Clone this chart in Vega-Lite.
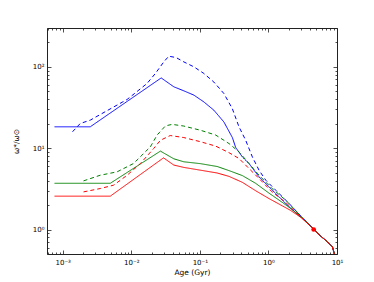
{
  "$schema": "https://vega.github.io/schema/vega-lite/v6.json",
  "width": 290,
  "height": 226,
  "autosize": {"type": "none"},
  "padding": {"left": 47, "top": 28, "right": 37, "bottom": 28},
  "config": {
    "view": {"stroke": "#222222", "strokeWidth": 1},
    "font": "DejaVu Sans",
    "axis": {
      "domain": false,
      "grid": false,
      "labelFont": "DejaVu Sans",
      "labelFontSize": 7,
      "labelColor": "#000000",
      "tickColor": "#222222",
      "tickWidth": 0.8,
      "titleFont": "DejaVu Sans",
      "titleFontSize": 7.5,
      "titleFontWeight": "normal",
      "titleColor": "#000000"
    }
  },
  "datasets": {
    "lines": [
      {"series": "bs", "color": "b", "style": "solid", "age": 0.00076, "omega": 18.3},
      {"series": "bs", "color": "b", "style": "solid", "age": 0.00252, "omega": 18.3},
      {"series": "bs", "color": "b", "style": "solid", "age": 0.0273, "omega": 73},
      {"series": "bs", "color": "b", "style": "solid", "age": 0.0417, "omega": 56.8},
      {"series": "bs", "color": "b", "style": "solid", "age": 0.0583, "omega": 50.7},
      {"series": "bs", "color": "b", "style": "solid", "age": 0.0817, "omega": 44.9},
      {"series": "bs", "color": "b", "style": "solid", "age": 0.114, "omega": 37.1},
      {"series": "bs", "color": "b", "style": "solid", "age": 0.16, "omega": 29.3},
      {"series": "bs", "color": "b", "style": "solid", "age": 0.224, "omega": 21},
      {"series": "bs", "color": "b", "style": "solid", "age": 0.298, "omega": 13.5},
      {"series": "bs", "color": "b", "style": "solid", "age": 0.333, "omega": 10.2},
      {"series": "bs", "color": "b", "style": "solid", "age": 0.417, "omega": 7.8},
      {"series": "bs", "color": "b", "style": "solid", "age": 0.52, "omega": 6.48},
      {"series": "bs", "color": "b", "style": "solid", "age": 0.729, "omega": 4.44},
      {"series": "bs", "color": "b", "style": "solid", "age": 1.02, "omega": 3.34},
      {"series": "bs", "color": "b", "style": "solid", "age": 1.43, "omega": 2.52},
      {"series": "bs", "color": "b", "style": "solid", "age": 2.0, "omega": 1.9},
      {"series": "bs", "color": "b", "style": "solid", "age": 3.0, "omega": 1.42},
      {"series": "bs", "color": "b", "style": "solid", "age": 4.64, "omega": 1.0},
      {"series": "bs", "color": "b", "style": "solid", "age": 5.5, "omega": 0.86},
      {"series": "bs", "color": "b", "style": "solid", "age": 7.2, "omega": 0.71},
      {"series": "bs", "color": "b", "style": "solid", "age": 8.6, "omega": 0.61},
      {"series": "bs", "color": "b", "style": "solid", "age": 9.1, "omega": 0.51},
      {"series": "bs", "color": "b", "style": "solid", "age": 9.4, "omega": 0.4},

      {"series": "bd", "color": "b", "style": "dashed", "age": 0.00139, "omega": 15.9},
      {"series": "bd", "color": "b", "style": "dashed", "age": 0.0018, "omega": 20.1},
      {"series": "bd", "color": "b", "style": "dashed", "age": 0.00252, "omega": 22.1},
      {"series": "bd", "color": "b", "style": "dashed", "age": 0.0044, "omega": 28.8},
      {"series": "bd", "color": "b", "style": "dashed", "age": 0.0087, "omega": 39.7},
      {"series": "bd", "color": "b", "style": "dashed", "age": 0.017, "omega": 62.5},
      {"series": "bd", "color": "b", "style": "dashed", "age": 0.0225, "omega": 83},
      {"series": "bd", "color": "b", "style": "dashed", "age": 0.0298, "omega": 115},
      {"series": "bd", "color": "b", "style": "dashed", "age": 0.0352, "omega": 135},
      {"series": "bd", "color": "b", "style": "dashed", "age": 0.045, "omega": 130},
      {"series": "bd", "color": "b", "style": "dashed", "age": 0.0583, "omega": 115},
      {"series": "bd", "color": "b", "style": "dashed", "age": 0.0817, "omega": 100},
      {"series": "bd", "color": "b", "style": "dashed", "age": 0.114, "omega": 83},
      {"series": "bd", "color": "b", "style": "dashed", "age": 0.16, "omega": 65},
      {"series": "bd", "color": "b", "style": "dashed", "age": 0.224, "omega": 47},
      {"series": "bd", "color": "b", "style": "dashed", "age": 0.298, "omega": 30.5},
      {"series": "bd", "color": "b", "style": "dashed", "age": 0.372, "omega": 18.3},
      {"series": "bd", "color": "b", "style": "dashed", "age": 0.466, "omega": 12.5},
      {"series": "bd", "color": "b", "style": "dashed", "age": 0.583, "omega": 7.8},
      {"series": "bd", "color": "b", "style": "dashed", "age": 0.729, "omega": 5.36},
      {"series": "bd", "color": "b", "style": "dashed", "age": 0.914, "omega": 4.04},
      {"series": "bd", "color": "b", "style": "dashed", "age": 1.28, "omega": 3.04},
      {"series": "bd", "color": "b", "style": "dashed", "age": 2.0, "omega": 2.09},
      {"series": "bd", "color": "b", "style": "dashed", "age": 3.0, "omega": 1.45},
      {"series": "bd", "color": "b", "style": "dashed", "age": 4.64, "omega": 1.0},
      {"series": "bd", "color": "b", "style": "dashed", "age": 5.5, "omega": 0.86},
      {"series": "bd", "color": "b", "style": "dashed", "age": 7.2, "omega": 0.71},
      {"series": "bd", "color": "b", "style": "dashed", "age": 8.6, "omega": 0.61},
      {"series": "bd", "color": "b", "style": "dashed", "age": 9.1, "omega": 0.51},
      {"series": "bd", "color": "b", "style": "dashed", "age": 9.4, "omega": 0.4},

      {"series": "gs", "color": "g", "style": "solid", "age": 0.00076, "omega": 3.7},
      {"series": "gs", "color": "g", "style": "solid", "age": 0.00494, "omega": 3.7},
      {"series": "gs", "color": "g", "style": "solid", "age": 0.0266, "omega": 9.2},
      {"series": "gs", "color": "g", "style": "solid", "age": 0.0417, "omega": 7.4},
      {"series": "gs", "color": "g", "style": "solid", "age": 0.0583, "omega": 6.8},
      {"series": "gs", "color": "g", "style": "solid", "age": 0.102, "omega": 6.45},
      {"series": "gs", "color": "g", "style": "solid", "age": 0.179, "omega": 5.95},
      {"series": "gs", "color": "g", "style": "solid", "age": 0.266, "omega": 5.3},
      {"series": "gs", "color": "g", "style": "solid", "age": 0.417, "omega": 4.6},
      {"series": "gs", "color": "g", "style": "solid", "age": 0.65, "omega": 3.7},
      {"series": "gs", "color": "g", "style": "solid", "age": 1.02, "omega": 2.8},
      {"series": "gs", "color": "g", "style": "solid", "age": 1.6, "omega": 2.15},
      {"series": "gs", "color": "g", "style": "solid", "age": 2.1, "omega": 1.82},
      {"series": "gs", "color": "g", "style": "solid", "age": 3.0, "omega": 1.41},
      {"series": "gs", "color": "g", "style": "solid", "age": 4.64, "omega": 1.0},
      {"series": "gs", "color": "g", "style": "solid", "age": 5.5, "omega": 0.86},
      {"series": "gs", "color": "g", "style": "solid", "age": 7.2, "omega": 0.71},
      {"series": "gs", "color": "g", "style": "solid", "age": 8.6, "omega": 0.61},
      {"series": "gs", "color": "g", "style": "solid", "age": 9.1, "omega": 0.51},
      {"series": "gs", "color": "g", "style": "solid", "age": 9.4, "omega": 0.4},

      {"series": "gd", "color": "g", "style": "dashed", "age": 0.00201, "omega": 3.96},
      {"series": "gd", "color": "g", "style": "dashed", "age": 0.00353, "omega": 4.65},
      {"series": "gd", "color": "g", "style": "dashed", "age": 0.00619, "omega": 5.11},
      {"series": "gd", "color": "g", "style": "dashed", "age": 0.0108, "omega": 6.48},
      {"series": "gd", "color": "g", "style": "dashed", "age": 0.019, "omega": 10.4},
      {"series": "gd", "color": "g", "style": "dashed", "age": 0.0238, "omega": 14.5},
      {"series": "gd", "color": "g", "style": "dashed", "age": 0.0315, "omega": 18.8},
      {"series": "gd", "color": "g", "style": "dashed", "age": 0.0394, "omega": 19.6},
      {"series": "gd", "color": "g", "style": "dashed", "age": 0.0583, "omega": 18.7},
      {"series": "gd", "color": "g", "style": "dashed", "age": 0.102, "omega": 16.6},
      {"series": "gd", "color": "g", "style": "dashed", "age": 0.17, "omega": 14.5},
      {"series": "gd", "color": "g", "style": "dashed", "age": 0.266, "omega": 11.4},
      {"series": "gd", "color": "g", "style": "dashed", "age": 0.372, "omega": 9.0},
      {"series": "gd", "color": "g", "style": "dashed", "age": 0.52, "omega": 6.48},
      {"series": "gd", "color": "g", "style": "dashed", "age": 0.729, "omega": 4.65},
      {"series": "gd", "color": "g", "style": "dashed", "age": 1.13, "omega": 3.19},
      {"series": "gd", "color": "g", "style": "dashed", "age": 1.79, "omega": 2.29},
      {"series": "gd", "color": "g", "style": "dashed", "age": 3.0, "omega": 1.45},
      {"series": "gd", "color": "g", "style": "dashed", "age": 4.64, "omega": 1.0},
      {"series": "gd", "color": "g", "style": "dashed", "age": 5.5, "omega": 0.86},
      {"series": "gd", "color": "g", "style": "dashed", "age": 7.2, "omega": 0.71},
      {"series": "gd", "color": "g", "style": "dashed", "age": 8.6, "omega": 0.61},
      {"series": "gd", "color": "g", "style": "dashed", "age": 9.1, "omega": 0.51},
      {"series": "gd", "color": "g", "style": "dashed", "age": 9.4, "omega": 0.4},

      {"series": "rs", "color": "r", "style": "solid", "age": 0.00076, "omega": 2.57},
      {"series": "rs", "color": "r", "style": "solid", "age": 0.00494, "omega": 2.57},
      {"series": "rs", "color": "r", "style": "solid", "age": 0.0295, "omega": 7.6},
      {"series": "rs", "color": "r", "style": "solid", "age": 0.0417, "omega": 6.2},
      {"series": "rs", "color": "r", "style": "solid", "age": 0.0583, "omega": 5.8},
      {"series": "rs", "color": "r", "style": "solid", "age": 0.102, "omega": 5.36},
      {"series": "rs", "color": "r", "style": "solid", "age": 0.179, "omega": 4.95},
      {"series": "rs", "color": "r", "style": "solid", "age": 0.266, "omega": 4.5},
      {"series": "rs", "color": "r", "style": "solid", "age": 0.417, "omega": 3.8},
      {"series": "rs", "color": "r", "style": "solid", "age": 0.65, "omega": 3.0},
      {"series": "rs", "color": "r", "style": "solid", "age": 1.02, "omega": 2.4},
      {"series": "rs", "color": "r", "style": "solid", "age": 1.6, "omega": 1.95},
      {"series": "rs", "color": "r", "style": "solid", "age": 2.1, "omega": 1.72},
      {"series": "rs", "color": "r", "style": "solid", "age": 3.0, "omega": 1.4},
      {"series": "rs", "color": "r", "style": "solid", "age": 4.64, "omega": 1.0},
      {"series": "rs", "color": "r", "style": "solid", "age": 5.5, "omega": 0.86},
      {"series": "rs", "color": "r", "style": "solid", "age": 7.2, "omega": 0.71},
      {"series": "rs", "color": "r", "style": "solid", "age": 8.6, "omega": 0.61},
      {"series": "rs", "color": "r", "style": "solid", "age": 9.1, "omega": 0.51},
      {"series": "rs", "color": "r", "style": "solid", "age": 9.4, "omega": 0.4},

      {"series": "rd", "color": "r", "style": "dashed", "age": 0.00201, "omega": 2.9},
      {"series": "rd", "color": "r", "style": "dashed", "age": 0.00353, "omega": 3.19},
      {"series": "rd", "color": "r", "style": "dashed", "age": 0.00553, "omega": 3.51},
      {"series": "rd", "color": "r", "style": "dashed", "age": 0.0087, "omega": 4.65},
      {"series": "rd", "color": "r", "style": "dashed", "age": 0.0136, "omega": 6.48},
      {"series": "rd", "color": "r", "style": "dashed", "age": 0.0212, "omega": 9.9},
      {"series": "rd", "color": "r", "style": "dashed", "age": 0.0266, "omega": 12.5},
      {"series": "rd", "color": "r", "style": "dashed", "age": 0.037, "omega": 14.3},
      {"series": "rd", "color": "r", "style": "dashed", "age": 0.0583, "omega": 13.5},
      {"series": "rd", "color": "r", "style": "dashed", "age": 0.102, "omega": 12},
      {"series": "rd", "color": "r", "style": "dashed", "age": 0.17, "omega": 10.6},
      {"series": "rd", "color": "r", "style": "dashed", "age": 0.266, "omega": 8.8},
      {"series": "rd", "color": "r", "style": "dashed", "age": 0.372, "omega": 7.47},
      {"series": "rd", "color": "r", "style": "dashed", "age": 0.52, "omega": 5.63},
      {"series": "rd", "color": "r", "style": "dashed", "age": 0.729, "omega": 4.24},
      {"series": "rd", "color": "r", "style": "dashed", "age": 1.13, "omega": 2.9},
      {"series": "rd", "color": "r", "style": "dashed", "age": 1.79, "omega": 2.15},
      {"series": "rd", "color": "r", "style": "dashed", "age": 3.0, "omega": 1.42},
      {"series": "rd", "color": "r", "style": "dashed", "age": 4.64, "omega": 1.0},
      {"series": "rd", "color": "r", "style": "dashed", "age": 5.5, "omega": 0.86},
      {"series": "rd", "color": "r", "style": "dashed", "age": 7.2, "omega": 0.71},
      {"series": "rd", "color": "r", "style": "dashed", "age": 8.6, "omega": 0.61},
      {"series": "rd", "color": "r", "style": "dashed", "age": 9.1, "omega": 0.51},
      {"series": "rd", "color": "r", "style": "dashed", "age": 9.4, "omega": 0.4}
    ],
    "sun": [{"age": 4.57, "omega": 1.0}]
  },
  "layer": [
    {
      "data": {"name": "lines"},
      "mark": {"type": "line", "strokeWidth": 1, "clip": true},
      "encoding": {
        "x": {
          "field": "age", "type": "quantitative",
          "scale": {"type": "log", "domain": [0.00059, 10], "nice": false},
          "axis": {
            "orient": "bottom", "values": [0.001, 0.01, 0.1, 1, 10],
            "tickSize": -4, "labelPadding": 8, "labelFlush": false,
            "labelExpr": "datum.value < 0.005 ? '10⁻³' : datum.value < 0.05 ? '10⁻²' : datum.value < 0.5 ? '10⁻¹' : datum.value < 5 ? '10⁰' : '10¹'",
            "title": "Age (Gyr)", "titlePadding": 3
          }
        },
        "y": {
          "field": "omega", "type": "quantitative",
          "scale": {"type": "log", "domain": [0.5, 300], "nice": false},
          "axis": {
            "orient": "left", "values": [1, 10, 100],
            "tickSize": -4, "labelPadding": 7, "labelFlush": false,
            "labelExpr": "datum.value < 5 ? '10⁰' : datum.value < 50 ? '10¹' : '10²'",
            "title": "ω*/ω⊙", "titlePadding": 12
          }
        },
        "color": {
          "field": "color", "type": "nominal",
          "scale": {"domain": ["b", "g", "r"], "range": ["#0000ff", "#008000", "#ff0000"]},
          "legend": null
        },
        "strokeDash": {
          "field": "style", "type": "nominal",
          "scale": {"domain": ["solid", "dashed"], "range": [[1, 0], [4, 3]]},
          "legend": null
        },
        "detail": {"field": "series", "type": "nominal"}
      }
    },
    {
      "data": {"name": "sun"},
      "mark": {"type": "point", "filled": true, "color": "#ff0000", "size": 22, "opacity": 1},
      "encoding": {
        "x": {
          "field": "age", "type": "quantitative",
          "scale": {"type": "log", "domain": [0.00059, 10], "nice": false},
          "axis": {
            "orient": "bottom",
            "values": [0.0006, 0.0007, 0.0008, 0.0009, 0.002, 0.003, 0.004, 0.005, 0.006, 0.007, 0.008, 0.009, 0.02, 0.03, 0.04, 0.05, 0.06, 0.07, 0.08, 0.09, 0.2, 0.3, 0.4, 0.5, 0.6, 0.7, 0.8, 0.9, 2, 3, 4, 5, 6, 7, 8, 9],
            "tickSize": -2, "labels": false, "title": null
          }
        },
        "y": {
          "field": "omega", "type": "quantitative",
          "scale": {"type": "log", "domain": [0.5, 300], "nice": false},
          "axis": {
            "orient": "left",
            "values": [0.5, 0.6, 0.7, 0.8, 0.9, 2, 3, 4, 5, 6, 7, 8, 9, 20, 30, 40, 50, 60, 70, 80, 90, 200, 300],
            "tickSize": -2, "labels": false, "title": null
          }
        }
      }
    },
    {
      "data": {"name": "sun"},
      "mark": {"type": "point", "opacity": 0},
      "encoding": {
        "x": {
          "field": "age", "type": "quantitative",
          "scale": {"type": "log", "domain": [0.00059, 10], "nice": false},
          "axis": {"orient": "top", "values": [0.001, 0.01, 0.1, 1, 10], "tickSize": -4, "labels": false, "title": null}
        },
        "y": {
          "field": "omega", "type": "quantitative",
          "scale": {"type": "log", "domain": [0.5, 300], "nice": false},
          "axis": {"orient": "right", "values": [1, 10, 100], "tickSize": -4, "labels": false, "title": null}
        }
      }
    },
    {
      "data": {"name": "sun"},
      "mark": {"type": "point", "opacity": 0},
      "encoding": {
        "x": {
          "field": "age", "type": "quantitative",
          "scale": {"type": "log", "domain": [0.00059, 10], "nice": false},
          "axis": {
            "orient": "top",
            "values": [0.0006, 0.0007, 0.0008, 0.0009, 0.002, 0.003, 0.004, 0.005, 0.006, 0.007, 0.008, 0.009, 0.02, 0.03, 0.04, 0.05, 0.06, 0.07, 0.08, 0.09, 0.2, 0.3, 0.4, 0.5, 0.6, 0.7, 0.8, 0.9, 2, 3, 4, 5, 6, 7, 8, 9],
            "tickSize": -2, "labels": false, "title": null
          }
        },
        "y": {
          "field": "omega", "type": "quantitative",
          "scale": {"type": "log", "domain": [0.5, 300], "nice": false},
          "axis": {
            "orient": "right",
            "values": [0.5, 0.6, 0.7, 0.8, 0.9, 2, 3, 4, 5, 6, 7, 8, 9, 20, 30, 40, 50, 60, 70, 80, 90, 200, 300],
            "tickSize": -2, "labels": false, "title": null
          }
        }
      }
    }
  ],
  "resolve": {"axis": {"x": "independent", "y": "independent"}}
}
